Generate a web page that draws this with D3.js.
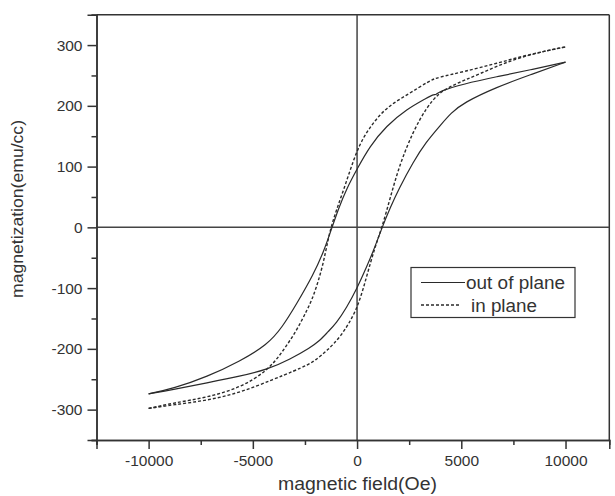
<!DOCTYPE html>
<html><head><meta charset="utf-8">
<script src="https://cdn.jsdelivr.net/npm/d3@7"></script>
<style>body{margin:0;background:#fff}svg{display:block}text{font-family:"Liberation Sans",Arial,sans-serif;fill:#333}</style>
</head><body><svg id="c" width="615" height="496"></svg>
<script>
// ---- data ----
const xTicks = [-10000, -5000, 0, 5000, 10000];
const xMinorTicks = [-12500, -7500, -2500, 2500, 7500];
const yTicks = [-300, -200, -100, 0, 100, 200, 300];
const yMinorTicks = [-350, -250, -150, -50, 50, 150, 250, 350];
const seriesNames = ["out of plane", "in plane"];

// out of plane, descending branch
const outDownH = [-10000,-8800,-7200,-5600,-4300,-3600,-2900,-2100,-1600,-1200,-900,-500,0,600,1400,2400,3300,3650,3800,3950,5100,6700,8300,10000];
const outDownM = [-274,-265,-246,-220,-193,-165,-126,-78,-40,0,30,64,96,133,167,195,212,219,218,224,236,248,259,272];
// out of plane, ascending branch
const outUpH = [-10000,-8800,-7200,-5600,-4300,-3200,-2250,-1800,-1400,-1000,-500,0,450,850,1200,1600,2000,2700,3300,4000,4500,5100,6700,8300,10000];
const outUpM = [-274,-267,-256,-245,-234,-217,-198,-187,-172,-158,-132,-100,-66,-33,0,33,63,108,140,168,188,205,231,251,272];
// in plane, descending branch
const inDownH = [-10000,-8800,-7200,-5600,-4300,-3600,-2900,-2400,-2100,-1600,-1300,-650,0,600,1400,2500,3500,3900,5100,6700,8300,10000];
const inDownM = [-298,-289,-280,-264,-236,-206,-170,-136,-115,-60,0,60,130,165,198,220,242,247,256,270,285,297];
// in plane, ascending branch
const inUpH = [-10000,-8800,-7200,-5600,-4000,-3000,-2400,-2000,-1450,-800,0,450,850,1200,1600,2050,2700,3350,3900,4450,5900,7500,9100,10000];
const inUpM = [-298,-292,-285,-272,-250,-236,-227,-219,-203,-181,-137,-82,-33,0,50,104,159,198,220,232,253,277,291,297];

// ---- drawing ----
const svg = d3.select("#c");
const x = d3.scaleLinear().domain([-12500, 12100]).range([96.5, 609.3]);
const y = d3.scaleLinear().domain([-350, 350]).range([440, 14.7]);
const ink = "#333";

// box (top/right)
svg.append("line").attr("x1", x.range()[0]).attr("x2", x.range()[1]).attr("y1", y(350)).attr("y2", y(350)).attr("stroke", ink).attr("stroke-width", 1.5);
svg.append("line").attr("x1", x.range()[1]).attr("x2", x.range()[1]).attr("y1", y(350)).attr("y2", y(-350)).attr("stroke", ink).attr("stroke-width", 1.5);

// crosshair at zero
svg.append("line").attr("x1", x(0)).attr("x2", x(0)).attr("y1", y(350)).attr("y2", y(-350)).attr("stroke", "#444").attr("stroke-width", 1.5);
svg.append("line").attr("x1", x.range()[0]).attr("x2", x.range()[1]).attr("y1", y(0)).attr("y2", y(0)).attr("stroke", "#444").attr("stroke-width", 1.5);

function styleAxis(g) {
  g.select(".domain").attr("stroke", ink).attr("stroke-width", 1.5);
  g.selectAll(".tick line").attr("stroke", ink).attr("stroke-width", 1.5);
  g.selectAll("text").attr("fill", "#333").style("font-size", "15.5px").style("font-family", '"Liberation Sans",Arial,sans-serif');
}
const fmt = d => String(d);
const gx = svg.append("g").attr("transform", `translate(0,${y(-350)})`)
  .call(d3.axisBottom(x).tickValues(xTicks).tickSize(9).tickPadding(6).tickFormat(fmt));
styleAxis(gx);
const gxm = svg.append("g").attr("transform", `translate(0,${y(-350)})`)
  .call(d3.axisBottom(x).tickValues(xMinorTicks).tickSize(5).tickFormat(""));
styleAxis(gxm);
const gy = svg.append("g").attr("transform", `translate(${x(-12500)},0)`)
  .call(d3.axisLeft(y).tickValues(yTicks).tickSize(9).tickPadding(5).tickFormat(fmt));
styleAxis(gy);
const gym = svg.append("g").attr("transform", `translate(${x(-12500)},0)`)
  .call(d3.axisLeft(y).tickValues(yMinorTicks).tickSize(5).tickFormat(""));
styleAxis(gym);

// curves
const line = d3.line().x(d => x(d[0])).y(d => y(d[1])).curve(d3.curveBasis);
const branches = [
  [outDownH, outDownM, null],
  [outUpH, outUpM, null],
  [inDownH, inDownM, "3,2"],
  [inUpH, inUpM, "3,2"]
];
branches.forEach(([H, M, dash]) => {
  svg.append("path").datum(H.map((h, i) => [h, M[i]]))
    .attr("d", line).attr("fill", "none").attr("stroke", "#2a2a2a")
    .attr("stroke-width", dash ? 1.4 : 1.2)
    .attr("stroke-dasharray", dash);
});

// legend
svg.append("rect").attr("x", 411).attr("y", 267.5).attr("width", 164).attr("height", 50)
  .attr("fill", "#fff").attr("stroke", ink).attr("stroke-width", 1.2);
svg.append("line").attr("x1", 421).attr("x2", 465).attr("y1", 282.5).attr("y2", 282.5).attr("stroke", "#2a2a2a").attr("stroke-width", 1.2);
svg.append("line").attr("x1", 421).attr("x2", 461).attr("y1", 305).attr("y2", 305).attr("stroke", "#2a2a2a").attr("stroke-width", 1.4).attr("stroke-dasharray", "3,2");
svg.append("text").attr("x", 466).attr("y", 288.5).style("font-size", "17.5px").attr("textLength", 99).attr("lengthAdjust", "spacingAndGlyphs").text(seriesNames[0]);
svg.append("text").attr("x", 471).attr("y", 311.5).style("font-size", "17.5px").attr("textLength", 66).attr("lengthAdjust", "spacingAndGlyphs").text(seriesNames[1]);

// axis titles
svg.append("text").attr("transform", "translate(23,209) rotate(-90)").attr("text-anchor", "middle")
  .style("font-size", "17px").attr("textLength", 178).attr("lengthAdjust", "spacingAndGlyphs").text("magnetization(emu/cc)");
svg.append("text").attr("x", 357.5).attr("y", 490).attr("text-anchor", "middle")
  .style("font-size", "17.5px").attr("textLength", 159).attr("lengthAdjust", "spacingAndGlyphs").text("magnetic field(Oe)");
</script></body></html>
